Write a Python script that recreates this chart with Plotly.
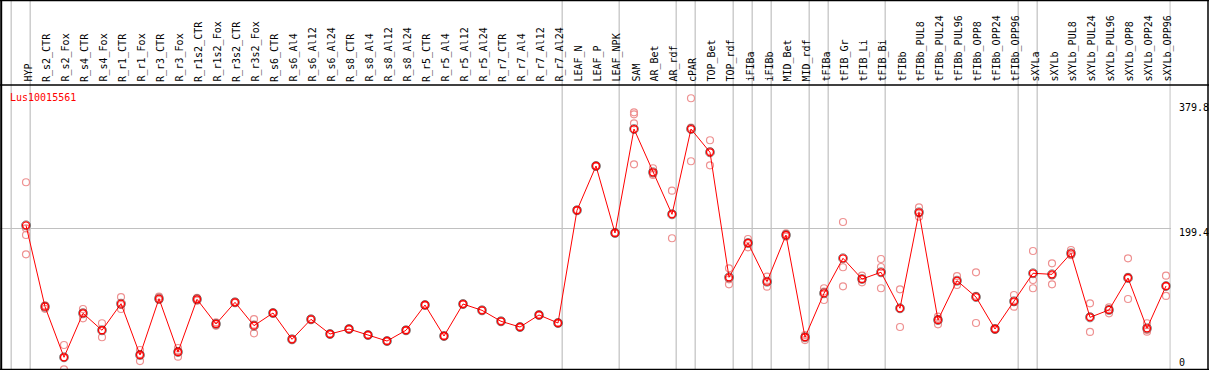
import plotly.graph_objects as go

categories = ["HYP", "R_s2_CTR", "R_s2_Fox", "R_s4_CTR", "R_s4_Fox", "R_r1_CTR", "R_r1_Fox",
              "R_r3_CTR", "R_r3_Fox", "R_r1s2_CTR", "R_r1s2_Fox", "R_r3s2_CTR", "R_r3s2_Fox",
              "R_s6_CTR", "R_s6_Al4", "R_s6_Al12", "R_s6_Al24", "R_s8_CTR", "R_s8_Al4", "R_s8_Al12",
              "R_s8_Al24", "R_r5_CTR", "R_r5_Al4", "R_r5_Al12", "R_r5_Al24", "R_r7_CTR", "R_r7_Al4",
              "R_r7_Al12", "R_r7_Al24", "LEAF_N", "LEAF_P", "LEAF_NPK", "SAM", "AR_Bet", "AR_rdf",
              "cPAR", "TOP_Bet", "TOP_rdf", "iFIBa", "iFIBb", "MID_Bet", "MID_rdf", "tFIBa",
              "tFIB_Gr", "tFIB_Li", "tFIB_Bi", "tFIBb", "tFIBb_PUL8", "tFIBb_PUL24", "tFIBb_PUL96",
              "tFIBb_OPP8", "tFIBb_OPP24", "tFIBb_OPP96", "sXYLa", "sXYLb", "sXYLb_PUL8",
              "sXYLb_PUL24", "sXYLb_PUL96", "sXYLb_OPP8", "sXYLb_OPP24", "sXYLb_OPP96"]

means = [203.6, 88.5, 17.0, 79.2, 55.2, 92.8, 20.2, 99.9, 24.5, 99.0,
         64.1, 94.7, 61.7, 79.6, 42.4, 70.7, 49.9, 57.0, 48.5, 40.0,
         55.2, 90.9, 47.1, 92.3, 83.4, 67.9, 59.8, 76.8, 65.5, 224.9,
         287.5, 192.8, 339.8, 278.6, 219.2, 339.8, 306.9, 130.1, 178.6, 123.9,
         189.9, 45.3, 107.5, 157.0, 127.7, 137.2, 86.3, 222.0, 69.7, 125.3,
         102.2, 57.0, 96.2, 135.8, 134.3, 164.0, 73.5, 83.9, 129.1, 58.0,
         117.8]

replicates = [
    [264.5, 199.4, 189.9, 162.6], [90.5, 85.5, 89.5], [34.4, 0.0, 16.6], [85.3, 72.1, 80.2],
    [65.1, 45.3, 55.2], [102.2, 85.3, 90.9], [27.3, 11.7, 21.6], [102.7, 98.0, 99.0],
    [30.1, 17.8, 25.6], [101.0, 97.0, 99.0], [66.5, 61.5, 64.3], [95.5, 94.0, 94.6],
    [71.1, 50.9, 63.1], [80.2, 79.0, 79.6], [43.0, 41.8, 42.4], [71.3, 70.1, 70.7],
    [50.5, 49.3, 49.9], [57.6, 56.4, 57.0], [49.1, 47.9, 48.5], [40.6, 39.4, 40.0],
    [55.8, 54.6, 55.2], [91.5, 90.3, 90.9], [47.7, 46.5, 47.1], [92.9, 91.7, 92.3],
    [84.0, 82.8, 83.4], [68.5, 67.3, 67.9], [60.4, 59.2, 59.8], [77.4, 76.2, 76.8],
    [66.1, 64.9, 65.5], [225.5, 224.3, 224.9], [288.1, 286.9, 287.5], [193.4, 192.2, 192.8],
    [363.4, 360.6, 347.9, 289.9], [284.3, 274.8, 276.7], [252.6, 185.3, 219.7],
    [383.3, 294.2, 341.9], [323.9, 288.5, 308.3], [142.8, 120.2, 127.3], [184.3, 172.5, 179.0],
    [131.0, 116.8, 123.9], [192.3, 187.5, 189.9], [48.5, 41.4, 46.0], [114.6, 98.0, 109.9],
    [208.3, 144.3, 117.4], [132.4, 123.0, 127.7], [156.0, 144.7, 114.6], [113.1, 59.8, 86.0],
    [229.1, 215.8, 221.1], [74.4, 63.6, 71.1], [131.9, 119.2, 124.8], [137.2, 65.5, 103.9],
    [58.0, 56.0, 57.0], [105.1, 88.5, 95.0], [167.3, 126.3, 114.6], [149.9, 120.2, 132.8],
    [168.7, 161.6, 161.7], [93.3, 52.8, 74.4], [87.7, 79.2, 84.8], [157.0, 99.4, 130.9],
    [65.1, 53.2, 55.7], [132.4, 103.7, 117.3]]

# index of last category in each group (group separators drawn just right of it)
group_ends = [-1, 0, 28, 31, 34, 35, 37, 38, 39, 41, 42, 45, 52, 53, 60]

title_text = "Lus10015561"
y_tick_vals = [379.8, 199.4, 0]
y_tick_labels = ["379.8", "199.4", "0"]

FONT = "DejaVu Sans Mono"
W, H = 1209, 370

xs = list(range(len(categories)))
rep_x, rep_y = [], []
for i, reps in enumerate(replicates):
    for v in reps:
        rep_x.append(i)
        rep_y.append(v)

fig = go.Figure()
fig.add_trace(go.Scatter(x=rep_x, y=rep_y, mode="markers",
                         marker=dict(symbol="circle-open", size=7, color="rgb(238,145,145)",
                                     line=dict(width=1.2)),
                         showlegend=False, hoverinfo="skip"))
fig.add_trace(go.Scatter(x=xs, y=means, mode="lines",
                         line=dict(color="red", width=1), showlegend=False))
fig.add_trace(go.Scatter(x=xs, y=means, mode="markers",
                         marker=dict(symbol="circle-open", size=9, color="rgba(0,0,0,0.75)",
                                     line=dict(width=0.6)),
                         showlegend=False, hoverinfo="skip"))
fig.add_trace(go.Scatter(x=xs, y=means, mode="markers",
                         marker=dict(symbol="circle-open", size=7, color="red",
                                     line=dict(width=1.3)),
                         showlegend=False))

# pixel geometry
x_dom_end = 1170.7 / W
x0_px, step_px = 26.0, 19.0
xr = [-x0_px / step_px, (1170.7 - x0_px) / step_px]
zero_px, scale = 369.3, 0.7071
yr = [(zero_px - H) / scale, zero_px / scale]

shapes = []
for g in group_ends:
    shapes.append(dict(type="line", xref="x", yref="paper", x0=g + 0.22, x1=g + 0.22,
                       y0=0, y1=1, line=dict(color="#c0c0c0", width=1.2), layer="below"))
black = dict(color="black", width=1.5)
shapes += [
    dict(type="line", xref="paper", yref="paper", x0=0, x1=1, y0=1 - 0.5 / H, y1=1 - 0.5 / H, line=black),
    dict(type="line", xref="paper", yref="paper", x0=0, x1=1, y0=1 - 85 / H, y1=1 - 85 / H, line=black),
    dict(type="line", xref="paper", yref="paper", x0=0, x1=1, y0=0.6 / H, y1=0.6 / H, line=black),
    dict(type="line", xref="paper", yref="paper", x0=1.2 / W, x1=1.2 / W, y0=0, y1=1, line=dict(color="black", width=2)),
    dict(type="line", xref="paper", yref="paper", x0=1 - 1 / W, x1=1 - 1 / W, y0=0, y1=1, line=black),
]

annotations = []
for i, c in enumerate(categories):
    annotations.append(dict(x=i, y=1 - 83 / H, xref="x", yref="paper", text=c, showarrow=False,
                            textangle=-90, xanchor="center", yanchor="bottom", borderpad=0,
                            xshift=1.5,
                            font=dict(family=FONT, size=10, color="black")))
annotations.append(dict(x=9 / W, y=1 - 97.3 / H, xref="paper", yref="paper", text=title_text,
                        showarrow=False, xanchor="left", yanchor="middle", borderpad=0,
                        font=dict(family=FONT, size=10, color="red")))
label_shift = [-6.8, -4.2, 7.3]
for v, t, s in zip(y_tick_vals, y_tick_labels, label_shift):
    annotations.append(dict(x=1178 / W, y=v, xref="paper", yref="y", text=t, showarrow=False,
                            xanchor="left", yanchor="middle", yshift=s, borderpad=0,
                            font=dict(family=FONT, size=10, color="black")))

fig.update_layout(
    width=W, height=H, margin=dict(l=0, r=0, t=0, b=0),
    paper_bgcolor="white", plot_bgcolor="white",
    xaxis=dict(domain=[0, x_dom_end], range=xr, showgrid=False, zeroline=False,
               showticklabels=False, ticks=""),
    yaxis=dict(range=yr, tickvals=[y_tick_vals[1]], showgrid=True, gridcolor="#c0c0c0",
               gridwidth=1.2, zeroline=False, showticklabels=False, ticks=""),
    shapes=shapes, annotations=annotations, showlegend=False,
)

fig.write_html("out.html", config={"displayModeBar": False},
               post_script="document.body.style.margin='0';document.body.style.overflow='hidden';")
